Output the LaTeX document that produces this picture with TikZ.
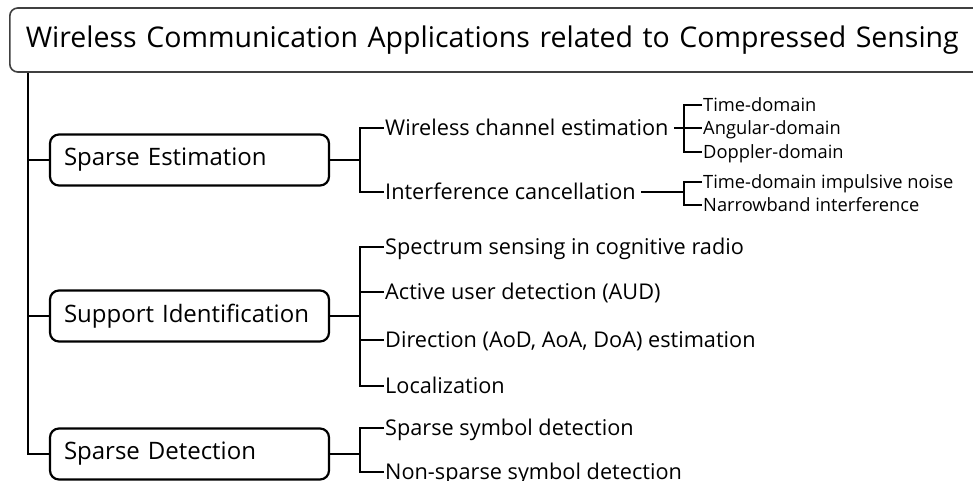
\documentclass[tikz,border=0pt]{standalone}
\usepackage{fontspec}
\setmainfont{Open Sans}
\usepackage{xcolor}
\usepackage{tikz}
\usetikzlibrary{positioning}
\definecolor{framegray}{RGB}{64,64,64}

\begin{document}
\begin{tikzpicture}[x=1pt, y=-1pt,
  catbox/.style={draw, line width=2.2pt, rounded corners=9pt,
                 minimum width=279pt, minimum height=51pt, text width=251pt,
                 inner xsep=14pt, align=left, font=\fontsize{24}{28}\selectfont},
  leaf/.style={anchor=west, inner xsep=1.5pt, inner ysep=0pt, text height=15.5pt,
               text depth=0pt, font=\fontsize{21.7}{25}\selectfont},
  subleaf/.style={anchor=west, inner xsep=1pt, inner ysep=0pt, text height=13pt,
                  text depth=0pt, font=\fontsize{18.3}{21}\selectfont},
  trunk/.style={line width=2.2pt},
  twig/.style={line width=1.1pt}]

  \useasboundingbox (0,0) rectangle (973,480);

  % root
  \node[draw=framegray, line width=1.6pt, rounded corners=8pt, anchor=west,
        minimum height=64pt, text width=958pt, inner xsep=16pt, align=left,
        font=\fontsize{28.5}{32}\selectfont]
        (title) at (9,40) {Wireless Communication Applications related to Compressed Sensing};
  \coordinate (trunktop) at ([xshift=19pt]title.south west);

  % categories
  \node[catbox] (est) at (189.5,160) {Sparse Estimation};
  \node[catbox] (sup) at (189.5,316) {Support Identification};
  \node[catbox] (det) at (189.5,454) {Sparse Detection};

  \draw[trunk] (trunktop) |- (det.west);
  \draw[trunk] (trunktop |- est.west) -- (est.west);
  \draw[trunk] (trunktop |- sup.west) -- (sup.west);

  % sparse estimation
  \coordinate (estfork) at (360,160);
  \node[leaf] (chan) at (383.5,128) {Wireless channel estimation};
  \node[leaf] (intf) at (383.5,192) {Interference cancellation};
  \draw[twig] (est.east) -- (estfork);
  \draw[twig] (chan.west) -| (estfork) |- (intf.west);

  \coordinate (chfork) at (684,128);
  \node[subleaf] (tdom) at (702,105) {Time-domain};
  \node[subleaf] (adom) at (702,128) {Angular-domain};
  \node[subleaf] (ddom) at (702,152) {Doppler-domain};
  \draw[twig] ([xshift=4pt]chan.east) -- (adom.west);
  \draw[twig] (tdom.west) -| (chfork) |- (ddom.west);

  \coordinate (infork) at (684,192);
  \node[subleaf] (imp) at (702,182) {Time-domain impulsive noise};
  \node[subleaf] (nbi) at (702,205) {Narrowband interference};
  \draw[twig] ([xshift=4pt]intf.east) -- (infork);
  \draw[twig] (imp.west) -| (infork) |- (nbi.west);

  % support identification
  \coordinate (supfork) at (360,316);
  \node[leaf] (spec) at (383.5,247) {Spectrum sensing in cognitive radio};
  \node[leaf] (aud)  at (383.5,292) {Active user detection (AUD)};
  \node[leaf] (doa)  at (383.5,340) {Direction (AoD, AoA, DoA) estimation};
  \node[leaf] (loc)  at (383.5,386) {Localization};
  \draw[twig] (sup.east) -- (supfork);
  \draw[twig] (spec.west) -| (supfork) |- (loc.west);
  \draw[twig] (supfork |- aud.west) -- (aud.west);
  \draw[twig] (supfork |- doa.west) -- (doa.west);

  % sparse detection
  \coordinate (detfork) at (360,454);
  \node[leaf] (sym)    at (383.5,428) {Sparse symbol detection};
  \node[leaf] (nonsym) at (383.5,472) {Non-sparse symbol detection};
  \draw[twig] (det.east) -- (detfork);
  \draw[twig] (sym.west) -| (detfork) |- (nonsym.west);

\end{tikzpicture}
\end{document}
